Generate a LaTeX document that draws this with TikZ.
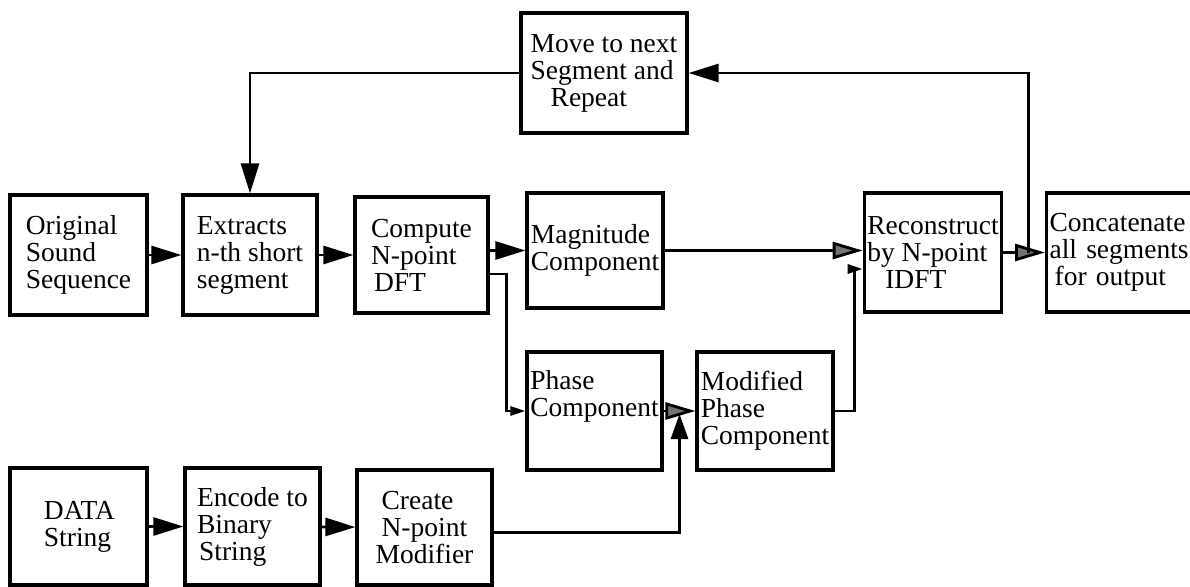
\documentclass[tikz,border=0pt]{standalone}
\usepackage{fontspec}
\setmainfont{Liberation Serif}
\usetikzlibrary{arrows.meta,calc}
\begin{document}
\begin{tikzpicture}[x=1pt,y=-1pt,
  blk/.style={draw, line width=3.2pt, inner sep=3pt, align=left,
    font=\fontsize{27.5}{27}\selectfont},
  wire/.style={line width=2.8pt},
  bigtip/.style={wire, -{Triangle[length=30pt,width=18pt]}},
  greytip/.style={wire, -{Triangle[length=30pt,width=17pt,fill=black!55]}},
  smalltip/.style={wire, -{Triangle[length=15pt,width=9pt]}},
  uptip/.style={wire, -{Triangle[length=25pt,width=17pt]}}]
\useasboundingbox (0,0) rectangle (1190,586);
\clip (0,0) rectangle (1190,586);

% processing blocks
\node[blk, minimum width=166pt, minimum height=120pt] (move) at (604,73)
  {Move to next\\Segment and\\\hspace{20pt}Repeat};
\node[blk, minimum width=137pt, minimum height=120pt] (orig) at (78.5,255)
  {Original\\Sound\\Sequence};
\node[blk, minimum width=134pt, minimum height=120pt] (extr) at (250,255)
  {Extracts\\n-th short\\segment};
\node[blk, minimum width=133pt, minimum height=116pt] (comp) at (421.5,255)
  {Compute\\N-point\\\hspace{3pt}DFT};
\node[blk, minimum width=136pt, minimum height=115pt] (magn) at (595,250.5)
  {Magnitude\\Component};
\node[blk, minimum width=130pt, minimum height=119pt] (recon) at (933,252.5)
  {Reconstruct\\by N-point\\\hspace{18pt}IDFT};
\node[blk, anchor=west, text width=150pt, minimum height=119pt] (concat) at (1045,252.5)
  {Concatenate\\all segments\\\hspace{5pt}for output};
\node[blk, minimum width=135pt, minimum height=118pt] (phase) at (594.5,411)
  {Phase\\Component\\[8pt]};
\node[blk, minimum width=136pt, minimum height=118pt] (modif) at (765,411)
  {Modified\\Phase\\Component};
\node[blk, minimum width=137pt, minimum height=117pt] (data) at (78.5,526.5)
  {\hspace{2pt}DATA\\\hspace{2pt}String};
\node[blk, minimum width=135pt, minimum height=117pt] (enc) at (252.5,526.5)
  {Encode to\\Binary\\\hspace{2pt}String};
\node[blk, minimum width=135pt, minimum height=115pt] (create) at (424.5,527.5)
  {\hspace{6pt}Create\\\hspace{6pt}N-point\\Modifier};

% junction points on existing wires
\coordinate (pm) at ($(phase.east)!0.5!(modif.west)$);
\coordinate (fb) at ($(recon.east)!0.6!(concat.west)$);

% signal path
\draw[bigtip] (orig) -- (extr);
\draw[bigtip] (extr) -- (comp);
\draw[bigtip] (comp.east |- magn.west) -- (magn.west);
\draw[greytip] (magn.east) -- (magn.east -| recon.west);
\draw[smalltip] ([yshift=-19pt]comp.east) -| ($(phase.west)+(-19,0)$) -- (phase.west);
\draw[greytip] (phase.east) -- (modif.west);
\draw[smalltip] (modif.east) -- ++(20,0) |- ([yshift=-16.5pt]recon.west);
\draw[greytip] (recon.east) -- (concat.west);

% segment loop
\draw[bigtip] (fb) |- (move.east);
\draw[bigtip] (move.west) -| (extr.north);

% data embedding path
\draw[bigtip] (data) -- (enc);
\draw[bigtip] (enc) -- (create);
\draw[uptip, shorten >=3pt] ([yshift=-5pt]create.east) -| (pm);
\end{tikzpicture}
\end{document}
